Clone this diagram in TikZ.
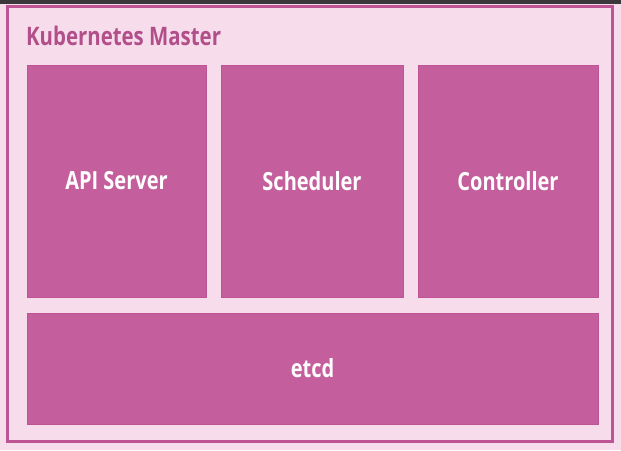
\documentclass[tikz,border=0pt]{standalone}
\usepackage{fontspec}
\newfontfamily\etiqueta{Open Sans}[FakeStretch=0.8]
\usepackage{tikz}
\usetikzlibrary{positioning}
\definecolor{fondo}{RGB}{247, 221, 236}
\definecolor{rosa}{RGB}{196, 94, 156}
\definecolor{rosaOscuro}{RGB}{190, 84, 148}
\definecolor{rosaTitulo}{RGB}{178, 78, 138}
\definecolor{grisOscuro}{RGB}{58, 56, 58}
\tikzstyle{marco}=[rectangle, draw=rosaOscuro, line width=3pt,
                   minimum width=605pt, minimum height=435pt,
                   inner sep=0pt, outer sep=0pt]
\tikzstyle{parte}=[rectangle, fill=rosa, draw=rosaOscuro,
                   line width=0.6pt, inner sep=0pt, outer sep=0pt,
                   text=white, font=\etiqueta\bfseries\fontsize{25}{28}\selectfont]

\begin{document}
\begin{tikzpicture}[x=1pt,y=-1pt]
    \useasboundingbox[fill=fondo] (0,0) rectangle (621,450);
    \fill[grisOscuro] (0,0) rectangle (621,4);

    \draw (310,224) node (master) [marco] {};
    \draw (26,45) node (titulo) [anchor=base west, inner sep=0pt, text=rosaTitulo,
        font=\etiqueta\bfseries\fontsize{25.5}{29}\selectfont] {Kubernetes Master};

    \draw (116.5,181) node (api) [parte,minimum width=179pt,minimum height=232pt] {API Server};
    \draw (312,181) node (scheduler) [parte,minimum width=182pt,minimum height=232pt] {Scheduler};
    \draw (508,181) node (controller) [parte,minimum width=180pt,minimum height=232pt] {Controller};
    \draw (312.5,368.5) node (etcd) [parte,minimum width=571pt,minimum height=111pt] {etcd};
\end{tikzpicture}
\end{document}
